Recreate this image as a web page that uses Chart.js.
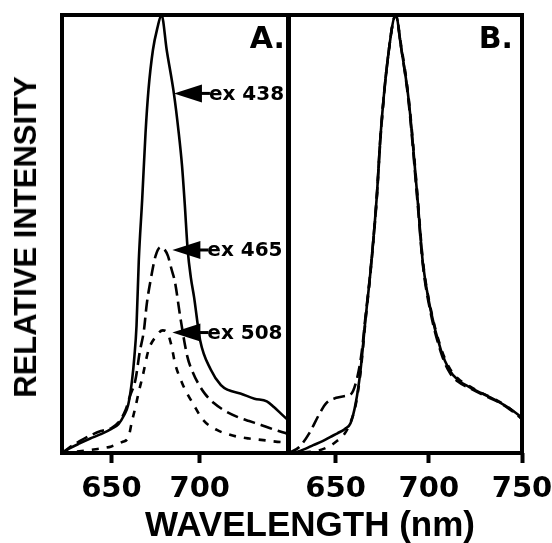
<!DOCTYPE html>
<html>
<head>
<meta charset="utf-8">
<script src="https://cdn.jsdelivr.net/npm/chart.js@4"></script>
<style>
  html, body { margin: 0; padding: 0; background: #fff; }
  #wrap { position: relative; width: 552px; height: 543px; background: #fff; overflow: hidden; }
  canvas { position: absolute; top: 0; }
  #panelA { left: 0; }
  #panelB { left: 280px; }
  .axis-title { position: absolute; font-family: "Liberation Sans", Arial, sans-serif; font-weight: bold; color: #000; white-space: nowrap; }
  #ytitle { font-size: 31px; left: 26px; top: 237px; transform: translate(-50%, -50%) rotate(-90deg); }
  #xtitle { font-size: 35px; left: 310px; top: 524px; transform: translate(-50%, -50%); }
</style>
</head>
<body>
<div id="wrap">
  <canvas id="panelA" width="300" height="543"></canvas>
  <canvas id="panelB" width="310" height="543"></canvas>
  <div id="ytitle" class="axis-title">RELATIVE INTENSITY</div>
  <div id="xtitle" class="axis-title">WAVELENGTH (nm)</div>
</div>
<script>
// Panel A: emission spectra at three excitation wavelengths (scaled to ex 438 peak)
const nmA438 = [622, 626, 632, 638, 644, 650, 654, 657, 659.5, 661.7, 663, 664.2, 665.5, 667.4, 669.3, 671, 673.5, 676, 678.4, 681.3, 685.4, 688, 690, 691.5, 693.2, 695, 696.8, 700.2, 706.3, 712, 716, 723, 731, 738, 742, 746, 750];
const relA438 = [0, 0.01, 0.022, 0.033, 0.043, 0.055, 0.066, 0.085, 0.11, 0.167, 0.22, 0.29, 0.44, 0.578, 0.73, 0.83, 0.92, 0.97, 1.0, 0.92, 0.82, 0.735, 0.655, 0.57, 0.463, 0.40, 0.356, 0.258, 0.19, 0.155, 0.144, 0.136, 0.124, 0.118, 0.105, 0.09, 0.075];

const nmA465 = [622, 626, 632, 638, 644, 650, 654, 658, 660.5, 663.6, 666, 668.4, 670, 672.2, 675, 677.8, 680, 682, 684, 686, 689, 693, 696, 699, 703, 708, 714, 721.6, 728, 734.7, 741, 748, 750];
const relA465 = [0, 0.012, 0.027, 0.04, 0.05, 0.057, 0.07, 0.098, 0.13, 0.167, 0.23, 0.28, 0.34, 0.395, 0.45, 0.47, 0.465, 0.45, 0.42, 0.39, 0.31, 0.22, 0.185, 0.16, 0.135, 0.114, 0.097, 0.082, 0.073, 0.064, 0.055, 0.046, 0.043];

const nmA508 = [622, 640, 650, 656, 659.7, 661.5, 663.6, 665.5, 667.6, 671, 675, 679, 682, 684, 686, 690, 693, 696, 702, 710, 716, 721.6, 728, 734.7, 741, 746, 750];
const relA508 = [0, 0.008, 0.015, 0.025, 0.037, 0.07, 0.105, 0.14, 0.174, 0.235, 0.265, 0.28, 0.272, 0.245, 0.205, 0.16, 0.135, 0.114, 0.075, 0.052, 0.043, 0.037, 0.033, 0.03, 0.027, 0.025, 0.024];

// Panel B: the same spectra, each normalised to its own peak
const nmB438 = [625, 629.6, 634, 638, 643, 647.3, 651, 655, 658, 660.8, 663.4, 666, 668.8, 672, 674.2, 678, 682.3, 685, 689.2, 694, 696.8, 701, 706.5, 711, 715.6, 722, 728, 733, 738.7, 744, 749.5, 750];
const relB438 = [0, 0.003, 0.01, 0.018, 0.027, 0.037, 0.045, 0.055, 0.068, 0.114, 0.19, 0.304, 0.418, 0.58, 0.73, 0.9, 1.0, 0.93, 0.806, 0.578, 0.434, 0.326, 0.235, 0.19, 0.167, 0.15, 0.137, 0.127, 0.114, 0.1, 0.082, 0.08];

const nmB465 = [625, 630.6, 636, 641.4, 645, 650.4, 655, 658.4, 661.7, 664, 666, 668.8, 672, 674.2, 678, 682.3, 685, 689.2, 694, 696.8, 701, 706.5, 711, 715.6, 722, 728, 733, 738.7, 744, 750];
const relB465 = [0, 0.014, 0.046, 0.09, 0.114, 0.126, 0.13, 0.135, 0.174, 0.23, 0.31, 0.42, 0.58, 0.73, 0.9, 1.0, 0.93, 0.8, 0.57, 0.43, 0.32, 0.23, 0.185, 0.163, 0.148, 0.135, 0.125, 0.113, 0.098, 0.078];

const nmB508 = [625, 640, 645, 650, 655, 658, 660.8, 663.4, 666, 668.8, 672, 674.2, 678, 682.3, 685, 689.2, 694, 696.8, 701, 706.5, 711, 715.6, 722, 728, 733, 738.7, 744, 750];
const relB508 = [0, 0.005, 0.012, 0.025, 0.045, 0.07, 0.11, 0.185, 0.3, 0.415, 0.575, 0.725, 0.9, 1.0, 0.935, 0.81, 0.585, 0.44, 0.33, 0.24, 0.195, 0.17, 0.152, 0.138, 0.128, 0.115, 0.1, 0.078];

const ticksA = [650, 700];
const ticksB = [650, 700, 750];

// arrow call-outs in panel A
const arrowLabels = ['ex 438', 'ex 465', 'ex 508'];
const arrowNm = [685.4, 684.5, 684.5];
const arrowRel = [0.821, 0.4635, 0.275];

const BOLD = '"DejaVu Sans", sans-serif';

function points(xs, ys) {
    return xs.map((x, i) => ({ x: x, y: ys[i] }));
}

function series(xs, ys, dash) {
    return {
        data: points(xs, ys),
        borderColor: '#000',
        borderWidth: 2.6,
        borderDash: dash,
        pointRadius: 0,
        fill: false,
        cubicInterpolationMode: 'monotone'
    };
}

// heavy box around the plot area plus the panel letter
const framePlugin = {
    id: 'frame',
    afterDraw(chart, args, opts) {
        const { ctx, chartArea: a } = chart;
        ctx.save();
        ctx.strokeStyle = '#000';
        ctx.lineWidth = 4;
        ctx.strokeRect(a.left, a.top, a.right - a.left, a.bottom - a.top);
        ctx.fillStyle = '#000';
        ctx.font = 'bold 30px ' + BOLD;
        ctx.textAlign = 'right';
        ctx.textBaseline = 'alphabetic';
        ctx.fillText(opts.letter, a.right - opts.inset, a.top + 33);
        ctx.restore();
    }
};

const arrowPlugin = {
    id: 'arrows',
    afterDraw(chart) {
        if (chart.canvas.id !== 'panelA') return;
        const { ctx, scales } = chart;
        ctx.save();
        ctx.fillStyle = '#000';
        ctx.strokeStyle = '#000';
        ctx.font = 'bold 20px ' + BOLD;
        ctx.textAlign = 'left';
        ctx.textBaseline = 'middle';
        arrowLabels.forEach((label, i) => {
            const tx = scales.x.getPixelForValue(arrowNm[i]);
            const ty = scales.y.getPixelForValue(arrowRel[i]);
            ctx.beginPath();
            ctx.moveTo(tx, ty);
            ctx.lineTo(tx + 28, ty - 9);
            ctx.lineTo(tx + 28, ty + 9);
            ctx.closePath();
            ctx.fill();
            ctx.lineWidth = 3;
            ctx.beginPath();
            ctx.moveTo(tx + 27, ty);
            ctx.lineTo(tx + 36, ty);
            ctx.stroke();
            ctx.fillText(label, tx + 35, ty + 1);
        });
        ctx.restore();
    }
};

function makeChart(id, datasets, xmin, tickValues, padding, letter, inset) {
    return new Chart(document.getElementById(id), {
        type: 'line',
        data: { datasets: datasets },
        options: {
            responsive: false,
            animation: false,
            layout: { padding: padding },
            plugins: {
                legend: { display: false },
                tooltip: { enabled: false },
                frame: { letter: letter, inset: inset }
            },
            scales: {
                x: {
                    type: 'linear',
                    min: xmin,
                    max: 750,
                    afterBuildTicks: s => { s.ticks = tickValues.map(v => ({ value: v })); },
                    afterFit: s => { s.height = 90; },
                    ticks: {
                        font: { family: BOLD, size: 29, weight: 'bold' },
                        color: '#000',
                        padding: 9,
                        maxRotation: 0,
                        autoSkip: false
                    },
                    grid: {
                        drawOnChartArea: false,
                        drawTicks: true,
                        tickLength: 10,
                        tickWidth: 4,
                        tickColor: '#000'
                    },
                    border: { display: false }
                },
                y: { display: false, min: 0, max: 1 }
            }
        },
        plugins: [framePlugin, arrowPlugin]
    });
}

makeChart('panelA', [
    series(nmA438, relA438, []),
    series(nmA465, relA465, [12, 6]),
    series(nmA508, relA508, [7, 8])
], 622, ticksA, { left: 62, top: 15, right: 12, bottom: 0 }, 'A.', 3);

makeChart('panelB', [
    series(nmB438, relB438, []),
    series(nmB465, relB465, [12, 6]),
    series(nmB508, relB508, [7, 8])
], 625, ticksB, { left: 9, top: 15, right: 68, bottom: 0 }, 'B.', 9);
</script>
</body>
</html>
